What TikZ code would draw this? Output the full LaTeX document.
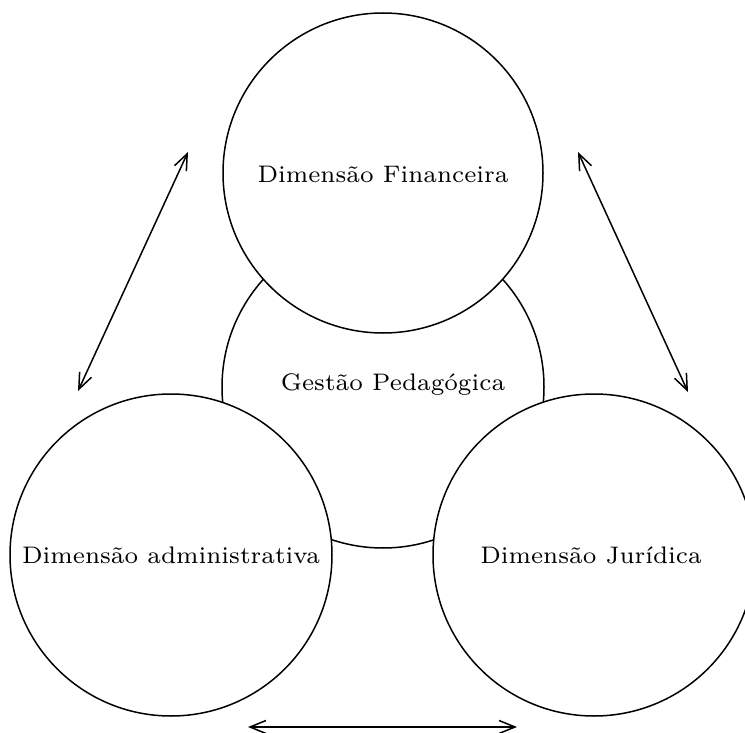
\documentclass[tikz,border=0pt]{standalone}
\usetikzlibrary{arrows.meta}
\begin{document}
\begin{tikzpicture}[x=1pt,y=-1pt,
  ring/.style={draw,line width=1.5pt,fill=white,circle,inner sep=0pt},
  lbl/.style={font=\fontsize{7}{8}\selectfont,scale=3.42,inner sep=0pt},
  tip/.tip={Straight Barb[length=16pt,width=13pt]},
  link/.style={line width=1.5pt,tip-tip}]
\useasboundingbox (0,0) rectangle (745,733);
\node[ring,minimum size=322pt] (ped) at (383,387) {};
\node[ring,minimum size=320pt] (fin) at (383,173) {};
\node[ring,minimum size=322pt] (adm) at (171,555) {};
\node[ring,minimum size=322pt] (jur) at (594,555) {};
\node[lbl] (tped) at (393,385) {Gestão Pedagógica};
\node[lbl] (tfin) at (383,174) {Dimensão Financeira};
\node[lbl] (tadm) at (171,555) {Dimensão administrativa};
\node[lbl] (tjur) at (591,555) {Dimensão Jurídica};
\coordinate (a1) at (78,391);
\coordinate (a2) at (188,152);
\coordinate (b1) at (578,152);
\coordinate (b2) at (688,392);
\coordinate (c1) at (248,727);
\coordinate (c2) at (517,727);
\draw[link] (a1) -- (a2);
\draw[link] (b1) -- (b2);
\draw[link] (c1) -- (c2);
\end{tikzpicture}
\end{document}
